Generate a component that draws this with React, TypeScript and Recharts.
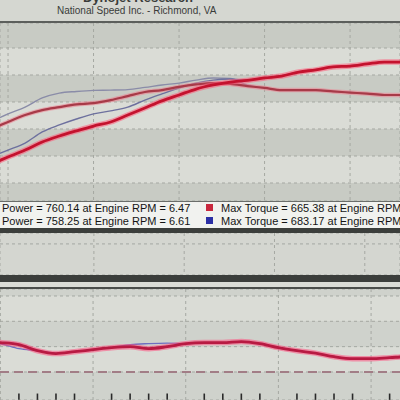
import React from "react";
import { LineChart, Line, XAxis, YAxis, CartesianGrid, ReferenceLine } from "recharts";

// engine rpm (x1000)
const rpm = [2.9, 3.0, 3.1, 3.2, 3.3, 3.4, 3.5, 3.6, 3.7, 3.8, 3.9, 4.0, 4.1, 4.2, 4.3, 4.4, 4.5, 4.6, 4.7, 4.8, 4.9, 5.0, 5.1, 5.2, 5.3];

const powerRun1 = [170, 196, 222, 252, 274, 293, 311, 326, 352, 378, 404, 426, 448, 463, 474, 480, 489, 496, 511, 519, 530, 533, 541, 548, 548];
const powerRun2 = [196, 222, 248, 289, 315, 337, 356, 367, 381, 407, 430, 452, 470, 481, 485, 481, 490, 497, 512, 520, 531, 534, 542, 549, 549];
const torqueRun1 = [300, 326, 352, 370, 381, 391, 396, 407, 422, 437, 444, 456, 465, 470, 467, 459, 452, 444, 444, 444, 439, 435, 431, 426, 426];
const torqueRun2 = [326, 356, 381, 415, 433, 439, 443, 444, 446, 454, 463, 470, 481, 489, 487, 463, 452, 444, 444, 444, 439, 435, 431, 426, 426];

const afrRun1 = [12.4, 12.32, 12.16, 11.68, 11.45, 11.6, 11.76, 11.92, 12.0, 11.84, 12.0, 12.24, 12.32, 12.32, 12.4, 12.24, 11.92, 11.68, 11.49, 11.21, 11.05, 11.05, 11.13, 11.21, 11.21];
const afrRun2 = [12.4, 12.24, 11.84, 11.68, 11.49, 11.6, 11.76, 11.92, 12.16, 12.24, 12.28, 12.24, 12.32, 12.32, 12.4, 12.24, 11.92, 11.68, 11.49, 11.21, 11.05, 11.05, 11.13, 11.21, 11.21];

const rpmGrid = [3, 3.5, 4, 4.5, 5];
const rpmMinor = [3.1, 3.2, 3.3, 3.4, 3.6, 3.7, 3.8, 3.9, 4.1, 4.2, 4.3, 4.4, 4.6, 4.7, 4.8, 4.9, 5.1];
const powerGrid = [100, 200, 300, 400, 500, 600];
const afrGrid = [10, 12, 14, 16];
const afrTarget = 10;
const afrTickSpan = [7.8, 8.3];
const boostGrid = [7.4];

const legendPower = ["Power = 760.14 at Engine RPM = 6.47", "Power = 758.25 at Engine RPM = 6.61"];
const legendTorque = ["Max Torque = 665.38 at Engine RPM", "Max Torque = 683.17 at Engine RPM"];
const runColors = ["#c8283e", "#2b2fa5"];

const rows = rpm.map((r, i) => ({
  rpm: r,
  power1: powerRun1[i],
  power2: powerRun2[i],
  torque1: torqueRun1[i],
  torque2: torqueRun2[i],
  afr1: afrRun1[i],
  afr2: afrRun2[i],
}));

const zero = { top: 0, right: 0, bottom: 0, left: 0 };
const font = "'Liberation Sans', Arial, sans-serif";

const box = (top: number, height: number, bg: string): React.CSSProperties => ({
  position: "absolute",
  left: 0,
  top,
  width: 400,
  height,
  background: bg,
  overflow: "hidden",
});

export default function App() {
  return (
    <div style={{ position: "absolute", left: 0, top: 0, width: 400, height: 400, overflow: "hidden", background: "#d6d8d2", fontFamily: font }}>
      {/* header */}
      <div style={box(0, 21, "#d5d7d1")}>
        <svg width={400} height={21}>
          <text x={83} y={2} fontSize={13} fontWeight="bold" fill="#3a3c3a" fontFamily={font}>Dynojet Research</text>
          <text x={57} y={14} fontSize={10} fill="#3a3c3a" fontFamily={font}>National Speed Inc. - Richmond, VA</text>
        </svg>
      </div>
      <div style={box(21, 2, "#5c5f5c")} />

      {/* power / torque */}
      <div style={box(23, 178, "#d6d8d2")}>
        <LineChart width={400} height={178} data={rows} margin={zero}>
          <CartesianGrid stroke="#a5a8a2" strokeDasharray="3 3" horizontalFill={["#c8cbc4", "#dadcd6"]} />
          <XAxis type="number" dataKey="rpm" domain={[2.953, 5.292]} ticks={rpmGrid} allowDataOverflow hide />
          <YAxis type="number" domain={[33.3, 692.6]} ticks={powerGrid} allowDataOverflow hide />
          <Line type="monotone" dataKey="torque2" stroke="#8a8ca8" strokeWidth={1.4} dot={false} isAnimationActive={false} />
          <Line type="monotone" dataKey="power2" stroke="#6d709e" strokeWidth={1.4} dot={false} isAnimationActive={false} />
          <Line type="monotone" dataKey="torque1" stroke="#ee8090" strokeOpacity={0.55} strokeWidth={4.5} dot={false} isAnimationActive={false} />
          <Line type="monotone" dataKey="torque1" stroke="#a83a48" strokeWidth={2.2} dot={false} isAnimationActive={false} />
          <Line type="monotone" dataKey="power1" stroke="#ff5a78" strokeOpacity={0.55} strokeWidth={5.5} dot={false} isAnimationActive={false} />
          <Line type="monotone" dataKey="power1" stroke="#c4122e" strokeWidth={2.8} dot={false} isAnimationActive={false} />
        </LineChart>
      </div>

      {/* legend */}
      <div style={{ ...box(201, 27, "#f1f2ef"), borderTop: "1px solid #6a6d6a", boxSizing: "border-box" }}>
        <svg width={400} height={27}>
          {legendPower.map((t, i) => (
            <text key={"p" + i} x={2} y={10 + i * 13} fontSize={11} fill="#141414" fontFamily={font}>{t}</text>
          ))}
          {legendTorque.map((t, i) => (
            <g key={"t" + i}>
              <rect x={206} y={2 + i * 13} width={7} height={7} fill={runColors[i]} />
              <text x={221} y={10 + i * 13} fontSize={11} fill="#141414" fontFamily={font}>{t}</text>
            </g>
          ))}
        </svg>
      </div>
      <div style={box(228, 5, "#3b3e3b")} />

      {/* empty channel */}
      <div style={box(233, 42, "#d4d6d0")}>
        <LineChart width={400} height={42} data={rows} margin={zero}>
          <CartesianGrid stroke="#a5a8a2" strokeDasharray="3 3" />
          <XAxis type="number" dataKey="rpm" domain={[2.98, 5.195]} ticks={rpmGrid} allowDataOverflow hide />
          <YAxis type="number" domain={[0, 10]} ticks={boostGrid} allowDataOverflow hide />
        </LineChart>
      </div>
      <div style={box(275, 7, "#3b3e3b")} />
      <div style={box(282, 5, "#dadcd6")} />
      <div style={box(287, 2, "#4a4d4a")} />

      {/* air / fuel */}
      <div style={box(289, 111, "#d8dad4")}>
        <LineChart width={400} height={111} data={rows} margin={zero}>
          <CartesianGrid stroke="#a5a8a2" strokeDasharray="3 3" vertical={false} horizontalFill={["#cfd2cc", "#dadcd6"]} />
          <XAxis type="number" dataKey="rpm" domain={[2.998, 5.156]} allowDataOverflow hide />
          <YAxis type="number" domain={[7.79, 16.55]} ticks={afrGrid} allowDataOverflow hide />
          {rpmGrid.map((r) => (
            <ReferenceLine key={r} x={r} stroke="#a5a8a2" strokeDasharray="3 3" />
          ))}
          {rpmMinor.map((r) => (
            <ReferenceLine
              key={"m" + r}
              segment={[{ x: r, y: afrTickSpan[0] }, { x: r, y: afrTickSpan[1] }]}
              stroke="#2a2a2a"
              strokeWidth={1.6}
            />
          ))}
          <ReferenceLine y={afrTarget} stroke="#a27d86" strokeWidth={2} strokeDasharray="9 5" />
          <Line type="monotone" dataKey="afr2" stroke="#6f6fc0" strokeWidth={1.4} dot={false} isAnimationActive={false} />
          <Line type="monotone" dataKey="afr1" stroke="#ff5080" strokeOpacity={0.55} strokeWidth={5.5} dot={false} isAnimationActive={false} />
          <Line type="monotone" dataKey="afr1" stroke="#b81a42" strokeWidth={2.8} dot={false} isAnimationActive={false} />
        </LineChart>
      </div>
    </div>
  );
}
